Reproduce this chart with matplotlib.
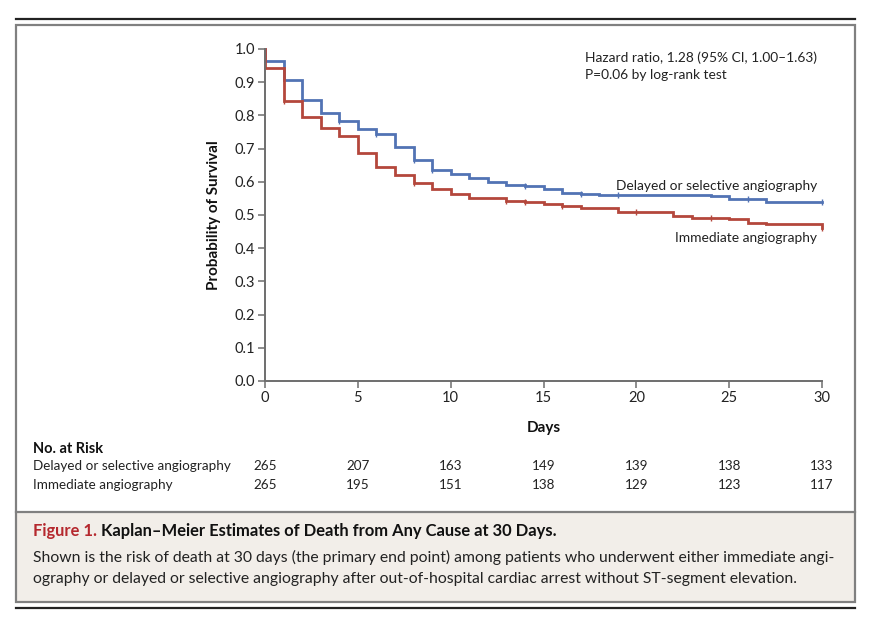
import numpy as np
import matplotlib
matplotlib.use("Agg")
import matplotlib.pyplot as plt
from matplotlib.lines import Line2D
from matplotlib.patches import Rectangle

# ---------------- data ----------------
days_delayed = [0, 0, 1, 2, 3, 4, 5, 6, 7, 8, 9, 10, 11, 12, 13, 14, 15, 16, 17, 18, 24, 25, 27, 30]
surv_delayed = [1.0, 0.965, 0.908, 0.845, 0.808, 0.784, 0.759, 0.743, 0.705, 0.667, 0.636, 0.623,
                0.612, 0.600, 0.590, 0.588, 0.578, 0.567, 0.563, 0.560, 0.556, 0.547, 0.538, 0.538]
censor_delayed = [4, 6, 8, 9, 14, 17, 19, 26, 30]

days_immediate = [0, 0, 1, 2, 3, 4, 5, 6, 7, 8, 9, 10, 11, 13, 14, 15, 16, 17, 19, 22, 23, 25, 26, 27, 30]
surv_immediate = [1.0, 0.943, 0.843, 0.796, 0.761, 0.739, 0.686, 0.645, 0.621, 0.595, 0.577, 0.563,
                  0.552, 0.543, 0.539, 0.533, 0.528, 0.520, 0.509, 0.498, 0.492, 0.487, 0.477, 0.472, 0.460]
censor_immediate = [1, 8, 13, 14, 16, 20, 24, 30]

risk_days = [0, 5, 10, 15, 20, 25, 30]
risk_delayed = [265, 207, 163, 149, 139, 138, 133]
risk_immediate = [265, 195, 151, 138, 129, 123, 117]

x_ticks = [0, 5, 10, 15, 20, 25, 30]
y_ticks = [0.0, 0.1, 0.2, 0.3, 0.4, 0.5, 0.6, 0.7, 0.8, 0.9, 1.0]

BLUE = "#5273b4"
RED = "#b4473c"
FONT = ["Lato", "DejaVu Sans"]
plt.rcParams["font.family"] = FONT

W, H = 874, 618
fig = plt.figure(figsize=(W / 100, H / 100), dpi=100)
fig.patch.set_facecolor("white")


def fx(px):
    return px / W


def fy(py):
    return 1 - py / H


# ---------------- frame ----------------
fig.add_artist(Line2D([fx(16), fx(855)], [fy(19), fy(19)], color="#222222", lw=1.6))
fig.add_artist(Rectangle((fx(16), fy(602)), fx(855) - fx(16), fy(512) - fy(602),
                         transform=fig.transFigure, facecolor="#f2eee9", edgecolor="none", zorder=0))
fig.add_artist(Rectangle((fx(16), fy(602)), fx(855) - fx(16), fy(24.5) - fy(602),
                         transform=fig.transFigure, facecolor="none", edgecolor="#808080", lw=1.6))
fig.add_artist(Line2D([fx(16), fx(855)], [fy(512), fy(512)], color="#808080", lw=1.6))
fig.add_artist(Line2D([fx(16), fx(855)], [fy(607.5), fy(607.5)], color="#222222", lw=1.6))

# ---------------- axes ----------------
ax = fig.add_axes([fx(265), fy(381), fx(822) - fx(265), fy(49) - fy(381)])
ax.set_xlim(0, 30)
ax.set_ylim(0, 1.0)
for s in ["top", "right"]:
    ax.spines[s].set_visible(False)
for s in ["left", "bottom"]:
    ax.spines[s].set_color("#6e6e6e")
    ax.spines[s].set_linewidth(1.4)
ax.set_xticks(x_ticks)
ax.set_yticks(y_ticks)
ax.set_yticklabels([f"{v:.1f}" for v in y_ticks])
ax.tick_params(axis="both", direction="out", length=5, width=1.1, color="#6e6e6e",
               labelsize=10.5, labelcolor="#222222", pad=2)
ax.patch.set_alpha(0)


def step_value(days, surv, t):
    d = np.asarray(days)
    s = np.asarray(surv)
    idx = np.searchsorted(d, t, side="right") - 1
    return s[idx]


for days, surv, cens, col in [(days_delayed, surv_delayed, censor_delayed, BLUE),
                              (days_immediate, surv_immediate, censor_immediate, RED)]:
    ax.plot(days, surv, drawstyle="steps-post", color=col, lw=2.0, solid_joinstyle="miter",
            clip_on=False)
    cv = [step_value(days, surv, t) for t in cens]
    ax.plot(cens, cv, linestyle="none", marker="|", markersize=5, mew=1.0, color=col, clip_on=False)

ax.set_ylabel("Probability of Survival", fontsize=11, fontweight="bold", color="#111111", labelpad=10)
ax.set_xlabel("Days", fontsize=11, fontweight="bold", color="#111111", labelpad=12)

fig.text(fx(585), fy(58), "Hazard ratio, 1.28 (95% CI, 1.00\u20131.63)", fontsize=9.9, color="#222222",
         va="center", ha="left")
fig.text(fx(585), fy(75), "P=0.06 by log-rank test", fontsize=9.9, color="#222222", va="center", ha="left")
fig.text(fx(817), fy(186), "Delayed or selective angiography", fontsize=9.9, color="#222222",
         va="center", ha="right")
fig.text(fx(817), fy(238), "Immediate angiography", fontsize=9.9, color="#222222",
         va="center", ha="right")

# ---------------- risk table ----------------
fig.text(fx(33), fy(449), "No. at Risk", fontsize=10.5, fontweight="bold", color="#111111", va="center")
fig.text(fx(33), fy(466), "Delayed or selective angiography", fontsize=9.7, color="#222222", va="center")
fig.text(fx(33), fy(485), "Immediate angiography", fontsize=9.7, color="#222222", va="center")
for d, a, b in zip(risk_days, risk_delayed, risk_immediate):
    xpos = fx(265) + (fx(822) - fx(265)) * d / 30
    fig.text(xpos, fy(466), str(a), fontsize=9.7, color="#222222", va="center", ha="center")
    fig.text(xpos, fy(485), str(b), fontsize=9.7, color="#222222", va="center", ha="center")

# ---------------- caption ----------------
t1 = fig.text(fx(33), fy(531), "Figure 1.", fontsize=11.9, fontweight="bold", color="#b5282e",
              va="center", ha="left")
ax.annotate(" Kaplan\u2013Meier Estimates of Death from Any Cause at 30 Days.", xy=(1, 0.5),
            xycoords=t1, fontsize=11.9, fontweight="bold", color="#111111", va="center", ha="left",
            annotation_clip=False)
fig.text(fx(33), fy(557), "Shown is the risk of death at 30 days (the primary end point) among patients who "
         "underwent either immediate angi-", fontsize=11.3, color="#222222", va="center", ha="left")
fig.text(fx(33), fy(579), "ography or delayed or selective angiography after out-of-hospital cardiac arrest "
         "without ST-segment elevation.", fontsize=11.3, color="#222222", va="center", ha="left")

fig.savefig("out.png", dpi=100, facecolor="white")
